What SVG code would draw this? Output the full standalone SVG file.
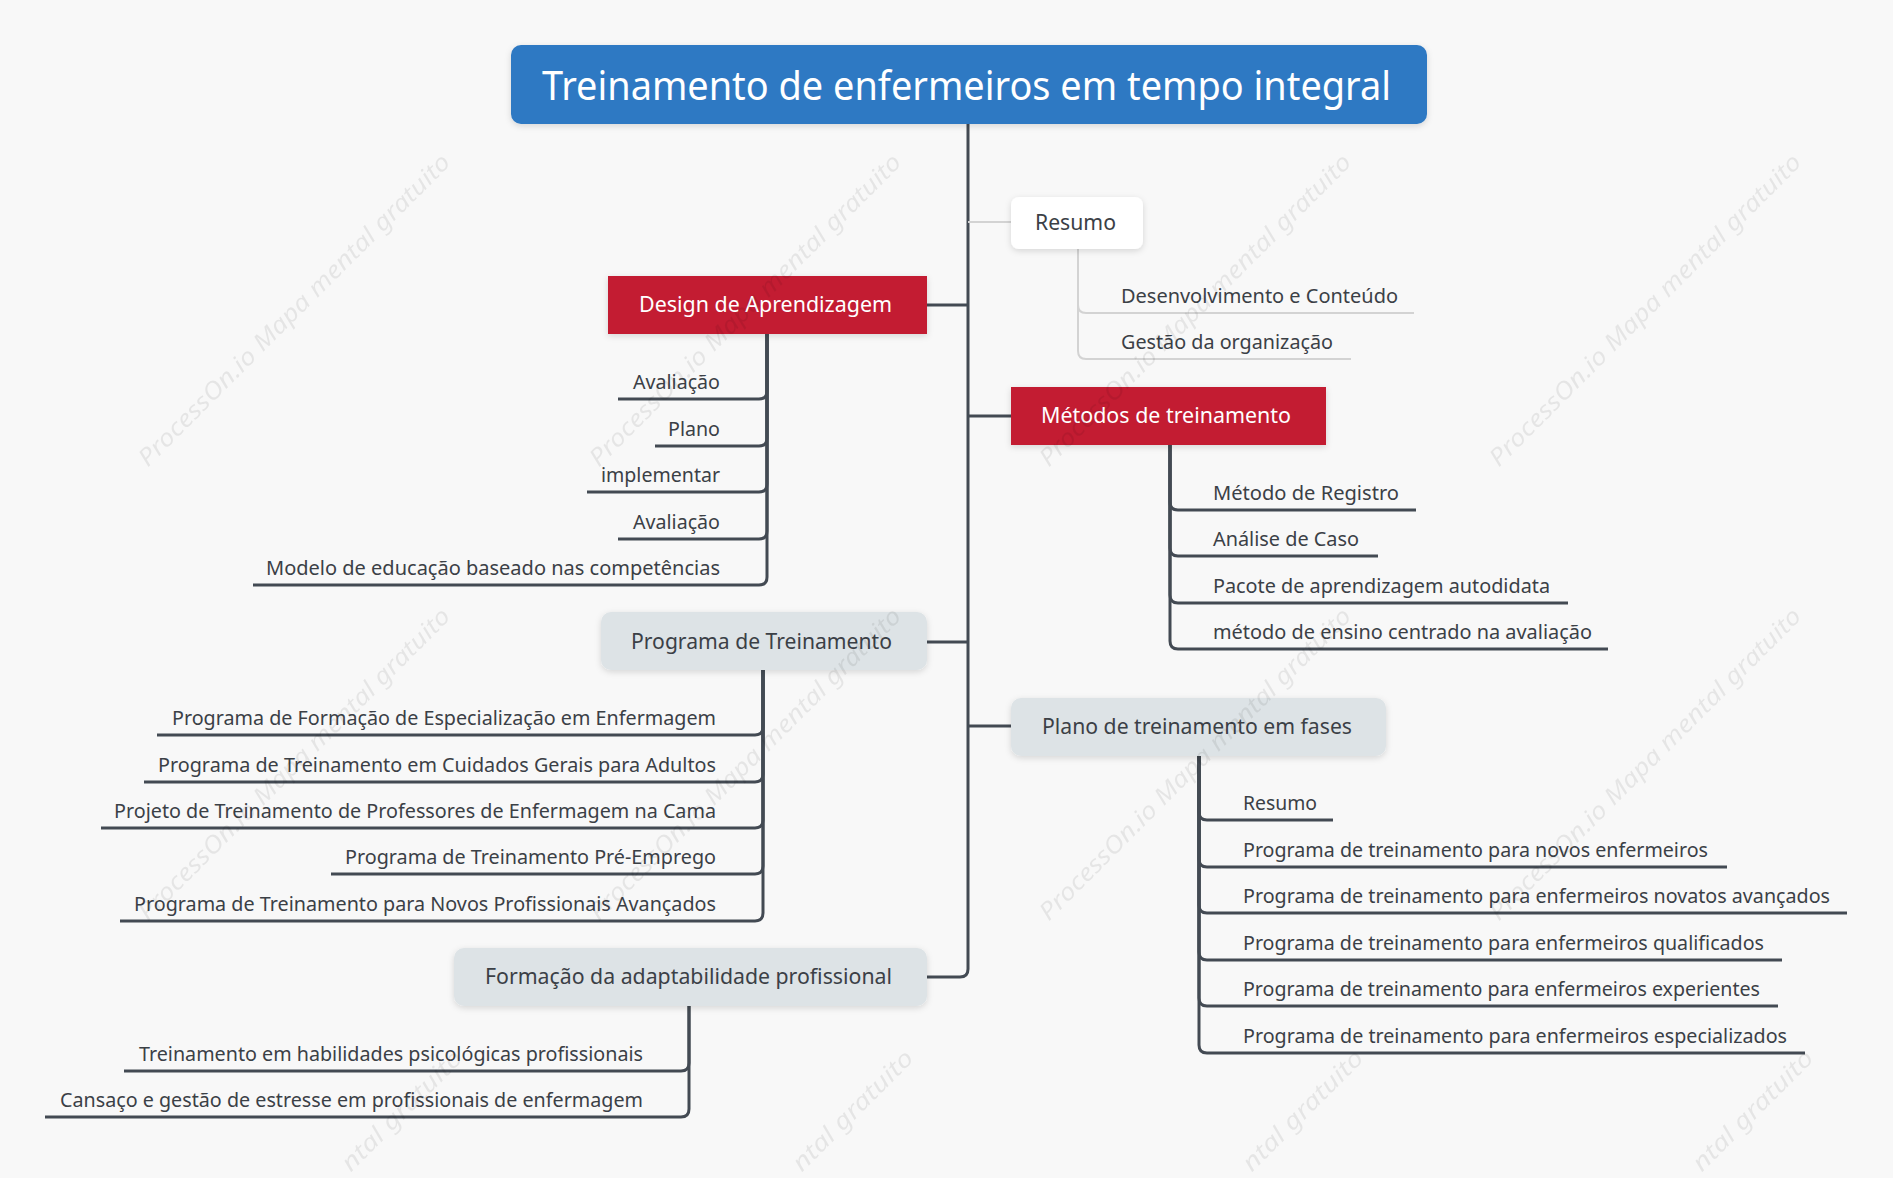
<svg xmlns="http://www.w3.org/2000/svg" width="1893" height="1178" viewBox="0 0 1893 1178">
<defs>
<filter id="sh" x="-10%" y="-20%" width="120%" height="150%">
<feDropShadow dx="0" dy="2" stdDeviation="3" flood-color="#000" flood-opacity="0.14"/>
</filter>
<style>
.t{font-family:"Noto Sans","Open Sans",sans-serif}
.title{font-size:40px;fill:#ffffff}
.nw{font-size:21px;fill:#ffffff}
.nd{font-size:21px;fill:#3b4046}
.lf{font-size:20px;fill:#3b4046}
.c{fill:none;stroke:#434a53;stroke-width:3;stroke-linecap:butt}
.cl{fill:none;stroke:#d3d3d3;stroke-width:2}
.red{fill:#c31b33}
.gray{fill:#dde3e6}
.wm{font-family:"Noto Sans","Open Sans",sans-serif;font-size:24px;font-style:italic;fill:#000;opacity:0.07}
</style>
</defs>
<rect width="1893" height="1178" fill="#f8f8f8"/>

<g id="connectors">
<path class="c" d="M968 124 V969 Q968 977 960 977 H927"/>
<path class="c" d="M968 305 H927"/>
<path class="c" d="M968 416 H1011"/>
<path class="c" d="M968 642 H927"/>
<path class="c" d="M968 726 H1011"/>
<path class="cl" d="M968 222 H1011"/>
<path class="cl" d="M1078 249 V305 Q1078 313 1086 313 H1414"/>
<path class="cl" d="M1078 249 V351 Q1078 359 1086 359 H1351"/>
<path class="c" d="M767 334 V391 Q767 399 759 399 H618"/>
<path class="c" d="M767 334 V438 Q767 446 759 446 H655"/>
<path class="c" d="M767 334 V484 Q767 492 759 492 H587"/>
<path class="c" d="M767 334 V531 Q767 539 759 539 H618"/>
<path class="c" d="M767 334 V577 Q767 585 759 585 H253"/>
<path class="c" d="M1170 445 V502 Q1170 510 1178 510 H1416"/>
<path class="c" d="M1170 445 V548 Q1170 556 1178 556 H1378"/>
<path class="c" d="M1170 445 V595 Q1170 603 1178 603 H1568"/>
<path class="c" d="M1170 445 V641 Q1170 649 1178 649 H1608"/>
<path class="c" d="M763 670 V727 Q763 735 755 735 H157"/>
<path class="c" d="M763 670 V774 Q763 782 755 782 H144"/>
<path class="c" d="M763 670 V820 Q763 828 755 828 H101"/>
<path class="c" d="M763 670 V866 Q763 874 755 874 H331"/>
<path class="c" d="M763 670 V913 Q763 921 755 921 H120"/>
<path class="c" d="M1199 756 V812 Q1199 820 1207 820 H1333"/>
<path class="c" d="M1199 756 V859 Q1199 867 1207 867 H1727"/>
<path class="c" d="M1199 756 V905 Q1199 913 1207 913 H1847"/>
<path class="c" d="M1199 756 V952 Q1199 960 1207 960 H1782"/>
<path class="c" d="M1199 756 V998 Q1199 1006 1207 1006 H1778"/>
<path class="c" d="M1199 756 V1045 Q1199 1053 1207 1053 H1805"/>
<path class="c" d="M689 1006 V1063 Q689 1071 681 1071 H124"/>
<path class="c" d="M689 1006 V1109 Q689 1117 681 1117 H45"/>
</g>

<g id="root">
<rect x="511" y="45" width="916" height="79" rx="10" fill="#2e79c3" filter="url(#sh)"/>
<text class="t title" x="542" y="100" textLength="849" lengthAdjust="spacingAndGlyphs">Treinamento de enfermeiros em tempo integral</text>
</g>

<g id="n-resumo">
<rect x="1011" y="197" width="132" height="52" rx="8" fill="#ffffff" filter="url(#sh)"/>
<text class="t nd" x="1035" y="230" textLength="81" lengthAdjust="spacingAndGlyphs">Resumo</text>
</g>
<g id="n-resumo-1"><text class="t lf" x="1121" y="303" textLength="277" lengthAdjust="spacingAndGlyphs">Desenvolvimento e Conteúdo</text></g>
<g id="n-resumo-2"><text class="t lf" x="1121" y="349" textLength="212" lengthAdjust="spacingAndGlyphs">Gestão da organização</text></g>

<g id="n-design">
<rect x="608" y="276" width="319" height="58" class="red" filter="url(#sh)"/>
<text class="t nw" x="639" y="312" textLength="253" lengthAdjust="spacingAndGlyphs">Design de Aprendizagem</text>
</g>
<g id="n-design-1"><text class="t lf" x="720" y="389" text-anchor="end" textLength="87" lengthAdjust="spacingAndGlyphs">Avaliação</text></g>
<g id="n-design-2"><text class="t lf" x="720" y="436" text-anchor="end" textLength="52" lengthAdjust="spacingAndGlyphs">Plano</text></g>
<g id="n-design-3"><text class="t lf" x="720" y="482" text-anchor="end" textLength="119" lengthAdjust="spacingAndGlyphs">implementar</text></g>
<g id="n-design-4"><text class="t lf" x="720" y="529" text-anchor="end" textLength="87" lengthAdjust="spacingAndGlyphs">Avaliação</text></g>
<g id="n-design-5"><text class="t lf" x="720" y="575" text-anchor="end" textLength="454" lengthAdjust="spacingAndGlyphs">Modelo de educação baseado nas competências</text></g>

<g id="n-metodos">
<rect x="1011" y="387" width="315" height="58" class="red" filter="url(#sh)"/>
<text class="t nw" x="1041" y="423" textLength="250" lengthAdjust="spacingAndGlyphs">Métodos de treinamento</text>
</g>
<g id="n-metodos-1"><text class="t lf" x="1213" y="500" textLength="186" lengthAdjust="spacingAndGlyphs">Método de Registro</text></g>
<g id="n-metodos-2"><text class="t lf" x="1213" y="546" textLength="146" lengthAdjust="spacingAndGlyphs">Análise de Caso</text></g>
<g id="n-metodos-3"><text class="t lf" x="1213" y="593" textLength="337" lengthAdjust="spacingAndGlyphs">Pacote de aprendizagem autodidata</text></g>
<g id="n-metodos-4"><text class="t lf" x="1213" y="639" textLength="379" lengthAdjust="spacingAndGlyphs">método de ensino centrado na avaliação</text></g>

<g id="n-programa">
<rect x="601" y="612" width="326" height="58" rx="10" class="gray" filter="url(#sh)"/>
<text class="t nd" x="631" y="649" textLength="261" lengthAdjust="spacingAndGlyphs">Programa de Treinamento</text>
</g>
<g id="n-programa-1"><text class="t lf" x="716" y="725" text-anchor="end" textLength="544" lengthAdjust="spacingAndGlyphs">Programa de Formação de Especialização em Enfermagem</text></g>
<g id="n-programa-2"><text class="t lf" x="716" y="772" text-anchor="end" textLength="558" lengthAdjust="spacingAndGlyphs">Programa de Treinamento em Cuidados Gerais para Adultos</text></g>
<g id="n-programa-3"><text class="t lf" x="716" y="818" text-anchor="end" textLength="602" lengthAdjust="spacingAndGlyphs">Projeto de Treinamento de Professores de Enfermagem na Cama</text></g>
<g id="n-programa-4"><text class="t lf" x="716" y="864" text-anchor="end" textLength="371" lengthAdjust="spacingAndGlyphs">Programa de Treinamento Pré-Emprego</text></g>
<g id="n-programa-5"><text class="t lf" x="716" y="911" text-anchor="end" textLength="582" lengthAdjust="spacingAndGlyphs">Programa de Treinamento para Novos Profissionais Avançados</text></g>

<g id="n-plano">
<rect x="1011" y="698" width="375" height="58" rx="10" class="gray" filter="url(#sh)"/>
<text class="t nd" x="1042" y="734" textLength="310" lengthAdjust="spacingAndGlyphs">Plano de treinamento em fases</text>
</g>
<g id="n-plano-1"><text class="t lf" x="1243" y="810" textLength="74" lengthAdjust="spacingAndGlyphs">Resumo</text></g>
<g id="n-plano-2"><text class="t lf" x="1243" y="857" textLength="465" lengthAdjust="spacingAndGlyphs">Programa de treinamento para novos enfermeiros</text></g>
<g id="n-plano-3"><text class="t lf" x="1243" y="903" textLength="587" lengthAdjust="spacingAndGlyphs">Programa de treinamento para enfermeiros novatos avançados</text></g>
<g id="n-plano-4"><text class="t lf" x="1243" y="950" textLength="521" lengthAdjust="spacingAndGlyphs">Programa de treinamento para enfermeiros qualificados</text></g>
<g id="n-plano-5"><text class="t lf" x="1243" y="996" textLength="517" lengthAdjust="spacingAndGlyphs">Programa de treinamento para enfermeiros experientes</text></g>
<g id="n-plano-6"><text class="t lf" x="1243" y="1043" textLength="544" lengthAdjust="spacingAndGlyphs">Programa de treinamento para enfermeiros especializados</text></g>

<g id="n-formacao">
<rect x="454" y="948" width="473" height="58" rx="10" class="gray" filter="url(#sh)"/>
<text class="t nd" x="485" y="984" textLength="407" lengthAdjust="spacingAndGlyphs">Formação da adaptabilidade profissional</text>
</g>
<g id="n-formacao-1"><text class="t lf" x="643" y="1061" text-anchor="end" textLength="504" lengthAdjust="spacingAndGlyphs">Treinamento em habilidades psicológicas profissionais</text></g>
<g id="n-formacao-2"><text class="t lf" x="643" y="1107" text-anchor="end" textLength="583" lengthAdjust="spacingAndGlyphs">Cansaço e gestão de estresse em profissionais de enfermagem</text></g>

<g id="watermark">
<text class="wm" text-anchor="middle" dominant-baseline="central" textLength="430" lengthAdjust="spacingAndGlyphs" transform="translate(293,309) rotate(-45)">ProcessOn.io Mapa mental gratuito</text>
<text class="wm" text-anchor="middle" dominant-baseline="central" textLength="430" lengthAdjust="spacingAndGlyphs" transform="translate(744,309) rotate(-45)">ProcessOn.io Mapa mental gratuito</text>
<text class="wm" text-anchor="middle" dominant-baseline="central" textLength="430" lengthAdjust="spacingAndGlyphs" transform="translate(1194,309) rotate(-45)">ProcessOn.io Mapa mental gratuito</text>
<text class="wm" text-anchor="middle" dominant-baseline="central" textLength="430" lengthAdjust="spacingAndGlyphs" transform="translate(1644,309) rotate(-45)">ProcessOn.io Mapa mental gratuito</text>
<text class="wm" text-anchor="middle" dominant-baseline="central" textLength="430" lengthAdjust="spacingAndGlyphs" transform="translate(293,763) rotate(-45)">ProcessOn.io Mapa mental gratuito</text>
<text class="wm" text-anchor="middle" dominant-baseline="central" textLength="430" lengthAdjust="spacingAndGlyphs" transform="translate(744,763) rotate(-45)">ProcessOn.io Mapa mental gratuito</text>
<text class="wm" text-anchor="middle" dominant-baseline="central" textLength="430" lengthAdjust="spacingAndGlyphs" transform="translate(1194,763) rotate(-45)">ProcessOn.io Mapa mental gratuito</text>
<text class="wm" text-anchor="middle" dominant-baseline="central" textLength="430" lengthAdjust="spacingAndGlyphs" transform="translate(1644,763) rotate(-45)">ProcessOn.io Mapa mental gratuito</text>
<text class="wm" dominant-baseline="central" textLength="160" lengthAdjust="spacingAndGlyphs" transform="translate(344,1166) rotate(-45)">ntal gratuito</text>
<text class="wm" dominant-baseline="central" textLength="160" lengthAdjust="spacingAndGlyphs" transform="translate(795,1166) rotate(-45)">ntal gratuito</text>
<text class="wm" dominant-baseline="central" textLength="160" lengthAdjust="spacingAndGlyphs" transform="translate(1245,1166) rotate(-45)">ntal gratuito</text>
<text class="wm" dominant-baseline="central" textLength="160" lengthAdjust="spacingAndGlyphs" transform="translate(1695,1166) rotate(-45)">ntal gratuito</text>
</g>
</svg>
